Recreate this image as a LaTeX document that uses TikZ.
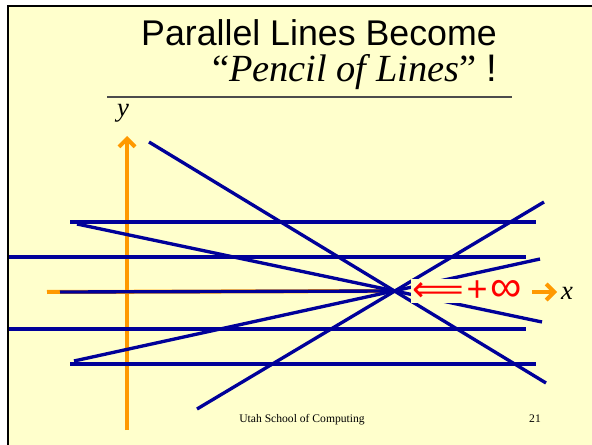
\documentclass[tikz,border=0pt]{standalone}
\usepackage{fontspec}
\setmainfont{Liberation Serif}
\setsansfont{Liberation Sans}
\newfontfamily\symfont{DejaVu Sans}
\usetikzlibrary{arrows.meta}
\definecolor{slidebg}{HTML}{FFFFCC}
\definecolor{pencilblue}{HTML}{000099}
\definecolor{axisorange}{HTML}{FF9900}
\tikzset{
  pencil/.style={pencilblue, line width=2.5pt},
  axis/.style={axisorange, line width=3pt},
  axistip/.style={-{Straight Barb[length=6pt, width=12pt]}}
}
\begin{document}
\begin{tikzpicture}[x=0.75pt, y=-0.75pt]
    \useasboundingbox (0,0) rectangle (592,445);
    \fill[white] (0,0) rectangle (592,445);
    \fill[slidebg] (7,6) rectangle (592,445);
    \draw[line width=2.2pt] (8,445) -- (8,6) -- (592,6);
    % Title
    \node[anchor=base east, inner sep=0, font=\sffamily\fontsize{26.8}{30}\selectfont] (title1) at (497,46) {Parallel Lines Become};
    \node[anchor=base east, inner sep=0, font=\fontsize{28.8}{32}\selectfont] (title2) at (497,82) {``\textit{Pencil of Lines}'' \textsf{!}};
    \draw[black!70, line width=0.8pt] (107,97) -- (512,97);
    % Axes
    \coordinate (vp) at (395,291);
    \draw[axis, axistip] (127,430) -- (127,136);
    \node[font=\itshape\fontsize{20}{24}\selectfont, inner sep=0] (ylab) at (123,113) {y};
    \draw[axis] (47,292) -- (vp);
    % Parallel lines
    \draw[pencil] (70,222) -- (536,222);
    \draw[pencil] (9,257) -- (526,257);
    \draw[pencil] (60,292) -- (vp);
    \draw[pencil] (9,329) -- (526,329);
    \draw[pencil] (70,364) -- (536,364);
    % Lines through the point at infinity
    \draw[pencil] (149,142) -- (546,383);
    \draw[pencil] (197,409) -- (544,202);
    \draw[pencil] (77,224) -- (542,322);
    \draw[pencil] (74,361) -- (540,259);
    % Label
    \node[fill=slidebg, inner sep=1pt, text=red] (infty) at (467,291)
        {{\symfont\fontsize{27}{30}\selectfont ⟸}\kern2pt{\sffamily\fontsize{27}{28}\selectfont +}\kern2pt{\sffamily\fontsize{33}{28}\selectfont ∞}};
    \draw[axis, axistip] (532,292) -- (557,292);
    \node[font=\itshape\fontsize{20}{24}\selectfont, inner sep=0] (xlab) at (567,293) {x};
    % Footer
    \node[font=\fontsize{8.7}{10}\selectfont, anchor=base, inner sep=0] (footer) at (302,422) {Utah School of Computing};
    \node[font=\fontsize{8.7}{10}\selectfont, anchor=base, inner sep=0] (pagenum) at (535,422) {21};
\end{tikzpicture}
\end{document}
